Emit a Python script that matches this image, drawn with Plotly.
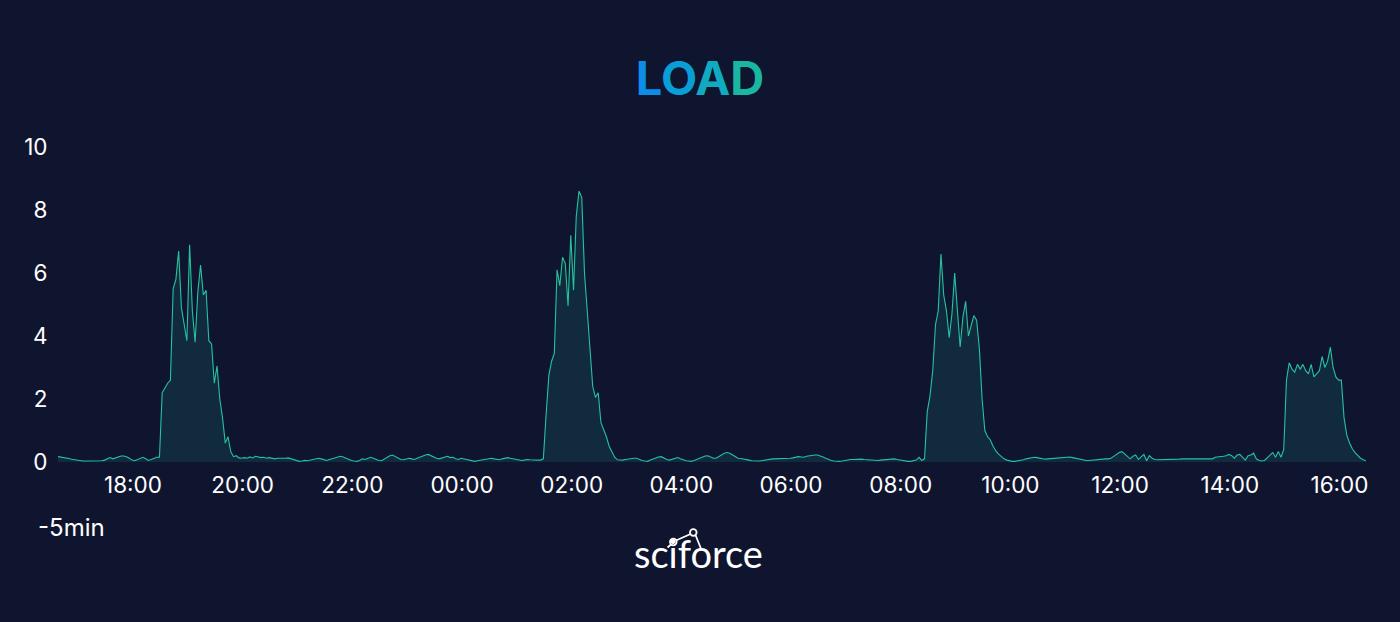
import pandas as pd
import plotly.graph_objects as go

# load average, one sample every 3 minutes, starting 16:38
start_time = "2023-05-01 16:38"
step = "3min"

load = [
    # 16:38
    0.17, 0.16, 0.15, 0.13, 0.11, 0.09, 0.07, 0.05, 0.04, 0.03, 0.03, 0.03, 0.03, 0.03, 0.03, 0.03, 0.04, 0.06, 0.1, 0.14,
    # 17:38
    0.1, 0.13, 0.17, 0.19, 0.19, 0.17, 0.12, 0.06, 0.04, 0.08, 0.12, 0.15, 0.1, 0.05, 0.08, 0.12, 0.15, 0.15, 2.2, 2.35,
    # 18:38
    2.5, 2.6, 5.5, 5.8, 6.7, 4.9, 4.3, 3.85, 6.9, 4.8, 3.8, 5.4, 6.25, 5.3, 5.45, 3.85, 3.75, 2.5, 3.05, 2.0,
    # 19:38
    1.4, 0.6, 0.8, 0.33, 0.17, 0.2, 0.13, 0.12, 0.14, 0.12, 0.16, 0.13, 0.18, 0.15, 0.14, 0.15, 0.12, 0.14, 0.13, 0.1,
    # 20:38
    0.12, 0.12, 0.1, 0.12, 0.13, 0.1, 0.06, 0.03, 0.02, 0.03, 0.05, 0.04, 0.06, 0.08, 0.1, 0.12, 0.1, 0.07, 0.05, 0.08,
    # 21:38
    0.1, 0.13, 0.15, 0.18, 0.16, 0.12, 0.08, 0.05, 0.03, 0.02, 0.05, 0.1, 0.08, 0.12, 0.15, 0.12, 0.08, 0.05, 0.04, 0.1,
    # 22:38
    0.16, 0.2, 0.22, 0.18, 0.12, 0.08, 0.07, 0.1, 0.12, 0.1, 0.08, 0.12, 0.16, 0.2, 0.22, 0.24, 0.2, 0.15, 0.12, 0.1,
    # 23:38
    0.12, 0.15, 0.18, 0.14, 0.15, 0.1, 0.08, 0.12, 0.1, 0.06, 0.05, 0.03, 0.02, 0.04, 0.06, 0.08, 0.1, 0.1, 0.12, 0.1,
    # 00:38
    0.08, 0.07, 0.1, 0.12, 0.14, 0.12, 0.1, 0.08, 0.06, 0.05, 0.06, 0.08, 0.07, 0.06, 0.05, 0.06, 0.06, 0.1, 1.5, 2.75,
    # 01:38
    3.2, 3.45, 6.1, 5.6, 6.5, 6.3, 4.95, 7.2, 5.45, 7.8, 8.6, 8.4, 6.0, 4.7, 3.6, 2.4, 2.05, 2.2, 1.25, 1.05,
    # 02:38
    0.8, 0.5, 0.3, 0.15, 0.07, 0.06, 0.06, 0.08, 0.1, 0.11, 0.12, 0.12, 0.08, 0.05, 0.03, 0.02, 0.06, 0.1, 0.14, 0.16,
    # 03:38
    0.17, 0.12, 0.08, 0.06, 0.08, 0.12, 0.14, 0.1, 0.06, 0.04, 0.03, 0.02, 0.05, 0.09, 0.13, 0.16, 0.19, 0.2, 0.16, 0.12,
    # 04:38
    0.12, 0.18, 0.24, 0.28, 0.3, 0.28, 0.22, 0.16, 0.12, 0.11, 0.1, 0.08, 0.06, 0.04, 0.03, 0.02, 0.03, 0.05, 0.07, 0.08,
    # 05:38
    0.09, 0.1, 0.1, 0.11, 0.1, 0.1, 0.12, 0.12, 0.13, 0.15, 0.17, 0.16, 0.15, 0.18, 0.2, 0.21, 0.22, 0.22, 0.2, 0.16,
    # 06:38
    0.12, 0.08, 0.05, 0.03, 0.02, 0.02, 0.03, 0.05, 0.07, 0.08, 0.08, 0.09, 0.1, 0.09, 0.08, 0.07, 0.06, 0.06, 0.05, 0.05,
    # 07:38
    0.06, 0.07, 0.08, 0.09, 0.1, 0.1, 0.08, 0.06, 0.04, 0.03, 0.02, 0.02, 0.03, 0.06, 0.15, 0.05, 0.1, 1.6, 2.1, 2.9,
    # 08:38
    4.35, 4.8, 6.6, 5.3, 4.8, 3.95, 4.7, 6.0, 4.8, 3.65, 4.6, 5.1, 4.0, 4.3, 4.65, 4.5, 3.6, 2.0, 1.0, 0.8,
    # 09:38
    0.7, 0.5, 0.35, 0.25, 0.17, 0.1, 0.06, 0.03, 0.02, 0.02, 0.03, 0.05, 0.07, 0.1, 0.12, 0.14, 0.15, 0.14, 0.12, 0.1,
    # 10:38
    0.09, 0.1, 0.11, 0.12, 0.13, 0.14, 0.15, 0.16, 0.17, 0.16, 0.14, 0.12, 0.1, 0.08, 0.06, 0.05, 0.05, 0.06, 0.08, 0.09,
    # 11:38
    0.09, 0.1, 0.1, 0.1, 0.12, 0.18, 0.25, 0.3, 0.33, 0.25, 0.15, 0.1, 0.18, 0.22, 0.08, 0.15, 0.24, 0.04, 0.2, 0.12,
    # 12:38
    0.08, 0.07, 0.07, 0.08, 0.08, 0.08, 0.09, 0.09, 0.09, 0.09, 0.1, 0.1, 0.1, 0.1, 0.1, 0.1, 0.1, 0.1, 0.09, 0.09,
    # 13:38
    0.1, 0.1, 0.15, 0.16, 0.15, 0.18, 0.2, 0.24, 0.2, 0.12, 0.22, 0.24, 0.15, 0.06, 0.2, 0.22, 0.28, 0.1, 0.05, 0.03,
    # 14:38
    0.05, 0.15, 0.22, 0.3, 0.15, 0.33, 0.15, 0.4, 2.6, 3.15, 2.95, 2.85, 3.1, 2.95, 3.1, 2.9, 2.8, 3.1, 2.7, 2.8,
    # 15:38
    2.9, 3.35, 3.0, 3.2, 3.65, 3.0, 2.7, 2.6, 2.6, 1.4, 0.85, 0.6, 0.42, 0.3, 0.2, 0.12, 0.07, 0.04,
]

times = pd.date_range(start_time, periods=len(load), freq=step)

y_ticks = [0, 2, 4, 6, 8, 10]
title_letters = ["L", "O", "A", "D"]
title_colors = ["#0b8de8", "#0a9ed6", "#10abc0", "#19b7a2"]

bg = "#10152f"
line_col = "#25c29f"

fig = go.Figure()
fig.add_trace(go.Scatter(x=times, y=load, mode="lines",
                         line=dict(color=line_col, width=1.1),
                         fill="tozeroy", fillcolor="rgba(30,170,150,0.14)",
                         showlegend=False))

title_html = "".join(f"<span style='color:{c}'>{ch}</span>"
                     for ch, c in zip(title_letters, title_colors))

fig.update_layout(
    width=1400, height=622,
    paper_bgcolor=bg, plot_bgcolor=bg,
    margin=dict(l=58, r=34, t=147, b=160),
    font=dict(family="Inter, Noto Sans, sans-serif", color="white", size=22),
    title=dict(text="<b>" + title_html + "</b>", x=0.5, xanchor="center",
               y=0.873, yanchor="middle", font=dict(size=47, family="Inter")),
    xaxis=dict(range=[times[0], times[-1]], showgrid=False, zeroline=False,
               showline=False, tickformat="%H:%M", dtick=2 * 3600 * 1000,
               tick0="2023-05-01 18:00", ticks="outside", ticklen=3,
               tickcolor=bg, tickfont=dict(size=22.5)),
    yaxis=dict(range=[0, 10], tickvals=y_ticks, showgrid=False, zeroline=False,
               showline=False, ticks="outside", ticklen=5, tickcolor=bg,
               tickfont=dict(size=22.5)),
)

fig.add_annotation(text="-5min", xref="paper", yref="paper",
                   x=(36 - 58) / 1308, y=(462 - 527) / 315,
                   xanchor="left", yanchor="middle", showarrow=False,
                   font=dict(size=24, color="white"))


def px(v):
    return (v - 58) / 1308


def py(v):
    return (462 - v) / 315


# sciforce logo
fig.add_annotation(text="sciforce", xref="paper", yref="paper",
                   x=px(632), y=py(553),
                   xanchor="left", yanchor="middle", showarrow=False,
                   font=dict(size=38, color="white", family="Lato"))

logo_lines = [(667.5, 547.5, 671, 544.5), (676, 540.5, 690.5, 534), (695.5, 535, 701.5, 550)]
for x0, y0, x1, y1 in logo_lines:
    fig.add_shape(type="line", xref="paper", yref="paper",
                  x0=px(x0), y0=py(y0), x1=px(x1), y1=py(y1),
                  line=dict(color="white", width=1.8))
for cx, cy in [(673.3, 542), (693.3, 532.5)]:
    fig.add_shape(type="circle", xref="paper", yref="paper",
                  x0=px(cx - 3.3), y0=py(cy + 3.3), x1=px(cx + 3.3), y1=py(cy - 3.3),
                  fillcolor=bg, line=dict(color="white", width=1.8))

fig.write_html("out.html", config={"displayModeBar": False},
               post_script="document.body.style.margin='0';")
